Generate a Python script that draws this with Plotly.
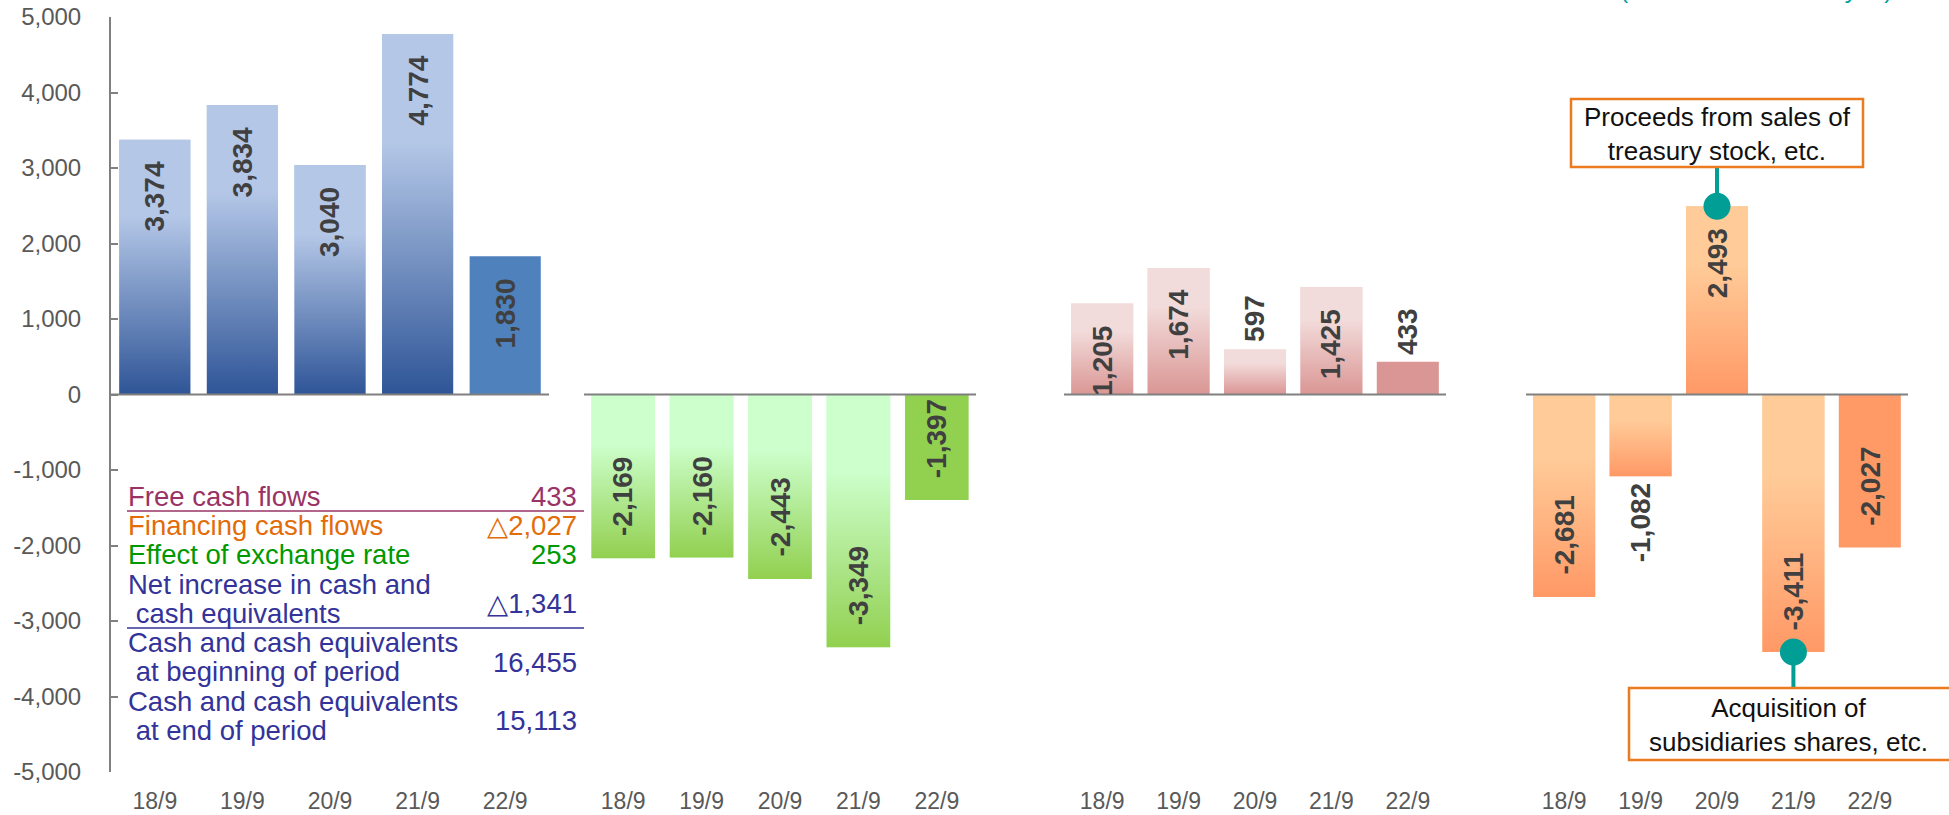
import plotly.graph_objects as go

# ---- data -------------------------------------------------------------
periods = ["18/9", "19/9", "20/9", "21/9", "22/9"]
operating_cf = [3374, 3834, 3040, 4774, 1830]
investing_cf = [-2169, -2160, -2443, -3349, -1397]
free_cf = [1205, 1674, 597, 1425, 433]
financing_cf = [-2681, -1082, 2493, -3411, -2027]

y_ticks = list(range(-5000, 5001, 1000))

summary_items = [
    ["Free cash flows"],
    ["Financing cash flows"],
    ["Effect of exchange rate"],
    ["Net increase in cash and", " cash equivalents"],
    ["Cash and cash equivalents", " at beginning of period"],
    ["Cash and cash equivalents", " at end of period"],
]
summary_values = ["433", "△2,027", "253", "△1,341", "16,455", "15,113"]

callout_up = "Proceeds from sales of<br>treasury stock, etc."
callout_down = "Acquisition of<br>subsidiaries shares, etc."
unit_note = "(Hundred millions of yen)"

# ---- page geometry & styles ------------------------------------------
W, H = 1949, 815
PLOT_TOP, PLOT_BOTTOM = 17, 772
Y_MIN, Y_MAX = -5000, 5000
PX_PER_UNIT = (PLOT_BOTTOM - PLOT_TOP) / (Y_MAX - Y_MIN)
panel_px = [(111, 549), (584, 976), (1064, 1446), (1526, 1908)]
BAR_W = 0.812

FONT = "Liberation Sans, Arial, DejaVu Sans, sans-serif"
AXIS_GRAY = "#808080"
TICK_GRAY = "#595959"
LABEL_GRAY = "#404040"
TEAL = "#009E94"
CALLOUT_BORDER = "#EC7A1E"
LABEL_SIZE = 28

panel_styles = [
    dict(dark="#2F5597", light="#B4C7E7", solid="#4F81BD"),
    dict(dark="#92D050", light="#CCFFCC", solid="#92D050"),
    dict(dark="#DA9694", light="#F2DCDB", solid="#DA9694"),
    dict(dark="#FF9966", light="#FFCC99", solid="#FF9966"),
]
summary_colors = ["#993366", "#E36C09", "#009900", "#333399", "#333399", "#333399"]
rule_below = {0: "#993366", 3: "#333399"}


def px(x):
    return x / W


def py(y):
    return 1 - y / H


def value_at(ypix):
    return Y_MAX - (ypix - PLOT_TOP) / PX_PER_UNIT


fig = go.Figure()
annotations = []
shapes = []
series = [operating_cf, investing_cf, free_cf, financing_cf]

for p, (vals, style) in enumerate(zip(series, panel_styles)):
    xa = "x" if p == 0 else f"x{p + 1}"
    idx = list(range(len(vals)))
    n = len(vals)
    colors = [style["light"]] * (n - 1) + [style["solid"]]
    fig.add_trace(go.Bar(
        x=idx, y=vals, width=BAR_W, xaxis=xa, yaxis="y",
        marker=dict(color=colors, line=dict(width=0)),
        showlegend=False, hoverinfo="x+y",
    ))
    # shaded fill over every bar but the latest one
    for i, v in enumerate(vals[:-1]):
        x0, x1 = i - BAR_W / 2, i + BAR_W / 2
        fig.add_trace(go.Scatter(
            x=[x0, x1, x1, x0, x0], y=[0, 0, v, v, 0],
            xaxis=xa, yaxis="y", mode="lines", line=dict(width=0),
            fill="toself",
            fillgradient=dict(
                type="vertical",
                colorscale=[[0, style["dark"]], [0.7, style["light"]], [1, style["light"]]],
            ),
            showlegend=False, hoverinfo="skip",
        ))
    # value labels, rotated, inside the bar end when they fit
    for i, v in enumerate(vals):
        txt = f"{v:,}"
        text_len = LABEL_SIZE * (0.556 * sum(c.isdigit() for c in txt)
                                 + 0.278 * txt.count(",") + 0.333 * txt.count("-"))
        bar_len = abs(v) * PX_PER_UNIT
        sign = 1 if v >= 0 else -1
        if bar_len >= text_len + 16:
            yanchor = "top" if v >= 0 else "bottom"
            yshift = -sign * 20
        else:
            yanchor = "bottom" if v >= 0 else "top"
            yshift = sign * 5
        annotations.append(dict(
            x=i, y=v, xref=xa, yref="y", text=f"<b>{txt}</b>", showarrow=False,
            textangle=-90, xanchor="center", yanchor=yanchor, yshift=yshift,
            font=dict(family=FONT, size=LABEL_SIZE, color=LABEL_GRAY),
        ))
    # baseline at zero across the panel
    shapes.append(dict(
        type="line", xref=f"{xa} domain", yref="y", x0=0, x1=1, y0=0, y1=0,
        line=dict(color=AXIS_GRAY, width=2), layer="above",
    ))

# ---- axes -----------------------------------------------------------------
axis_layout = {}
for p, (l, r) in enumerate(panel_px):
    key = "xaxis" if p == 0 else f"xaxis{p + 1}"
    axis_layout[key] = dict(
        domain=[px(l), px(r)], anchor="y", range=[-0.5, 4.5],
        tickmode="array", tickvals=list(range(len(periods))), ticktext=periods,
        showline=False, showgrid=False, zeroline=False, ticks="",
        tickfont=dict(family=FONT, size=23, color=TICK_GRAY),
        ticklabelstandoff=13, fixedrange=True, automargin=False,
    )

axis_layout["yaxis"] = dict(
    domain=[1 - PLOT_BOTTOM / H, 1 - PLOT_TOP / H], anchor="x",
    range=[Y_MIN, Y_MAX], tickmode="array", tickvals=y_ticks,
    ticktext=[f"{t:,}" for t in y_ticks],
    showline=True, linecolor=AXIS_GRAY, linewidth=2,
    ticks="inside", ticklen=7, tickwidth=2, tickcolor=AXIS_GRAY,
    showgrid=False, zeroline=False,
    tickfont=dict(family=FONT, size=24, color=TICK_GRAY),
    ticklabelstandoff=23, fixedrange=True, automargin=False,
)

# ---- summary table (lower left) ------------------------------------------
TABLE_FS = 27.5
first_baseline, line_step = 506, 29.25
line_no = 0
for r, (lines, value, color) in enumerate(zip(summary_items, summary_values, summary_colors)):
    baselines = []
    for ln in lines:
        b = first_baseline + line_step * line_no
        baselines.append(b)
        annotations.append(dict(
            x=px(126), y=py(b - 0.347 * TABLE_FS), xref="paper", yref="paper",
            text=ln.replace(" ", "\u00a0", 1) if ln.startswith(" ") else ln,
            showarrow=False, xanchor="left", yanchor="middle",
            font=dict(family=FONT, size=TABLE_FS, color=color),
        ))
        line_no += 1
    vb = sum(baselines) / len(baselines) + (5 if len(baselines) > 1 else 0)
    annotations.append(dict(
        x=px(579), y=py(vb - 0.347 * TABLE_FS), xref="paper", yref="paper",
        text=value, showarrow=False, xanchor="right", yanchor="middle",
        font=dict(family=FONT, size=TABLE_FS, color=color),
    ))
    if r in rule_below:
        ry = baselines[-1] + 5
        shapes.append(dict(
            type="line", xref="paper", yref="paper", x0=px(127), x1=px(584),
            y0=py(ry), y1=py(ry), line=dict(color=rule_below[r], width=1.5),
        ))

# ---- callouts in the financing panel ---------------------------------------
up_i = financing_cf.index(max(financing_cf))
down_i = financing_cf.index(min(financing_cf))
callouts = [
    dict(i=up_i, text=callout_up, box=(1571, 99, 1863, 167), edge=167),
    dict(i=down_i, text=callout_down, box=(1629, 688, 1955, 760), edge=688),
]
for c in callouts:
    v = financing_cf[c["i"]]
    shapes.append(dict(
        type="line", xref="x4", yref="y", x0=c["i"], x1=c["i"],
        y0=v, y1=value_at(c["edge"]), line=dict(color=TEAL, width=4), layer="above",
    ))
    bx0, by0, bx1, by1 = c["box"]
    shapes.append(dict(
        type="rect", xref="paper", yref="paper",
        x0=px(bx0), x1=px(bx1), y0=py(by0), y1=py(by1),
        line=dict(color=CALLOUT_BORDER, width=2.5), fillcolor="white", layer="above",
    ))
    annotations.append(dict(
        x=px((bx0 + min(bx1, 1947)) / 2), y=py((by0 + by1) / 2 + 1), xref="paper", yref="paper",
        text=c["text"], showarrow=False, xanchor="center", yanchor="middle",
        font=dict(family=FONT, size=26, color="#111111"),
    ))
fig.add_trace(go.Scatter(
    x=[c["i"] for c in callouts], y=[financing_cf[c["i"]] for c in callouts],
    xaxis="x4", yaxis="y", mode="markers",
    marker=dict(color=TEAL, size=27, line=dict(width=0)),
    showlegend=False, hoverinfo="skip",
))

# unit note along the top edge
annotations.append(dict(
    x=px(1618), y=1 + 10.5 / H, xref="paper", yref="paper", text=unit_note,
    showarrow=False, xanchor="left", yanchor="middle",
    font=dict(family=FONT, size=24.5, color=TEAL),
))

fig.update_layout(
    width=W, height=H, margin=dict(l=0, r=0, t=0, b=0, pad=0, autoexpand=False),
    paper_bgcolor="white", plot_bgcolor="rgba(0,0,0,0)",
    showlegend=False, barmode="overlay",
    annotations=annotations, shapes=shapes,
    font=dict(family=FONT),
    **axis_layout,
)

fig.write_html("out.html")
